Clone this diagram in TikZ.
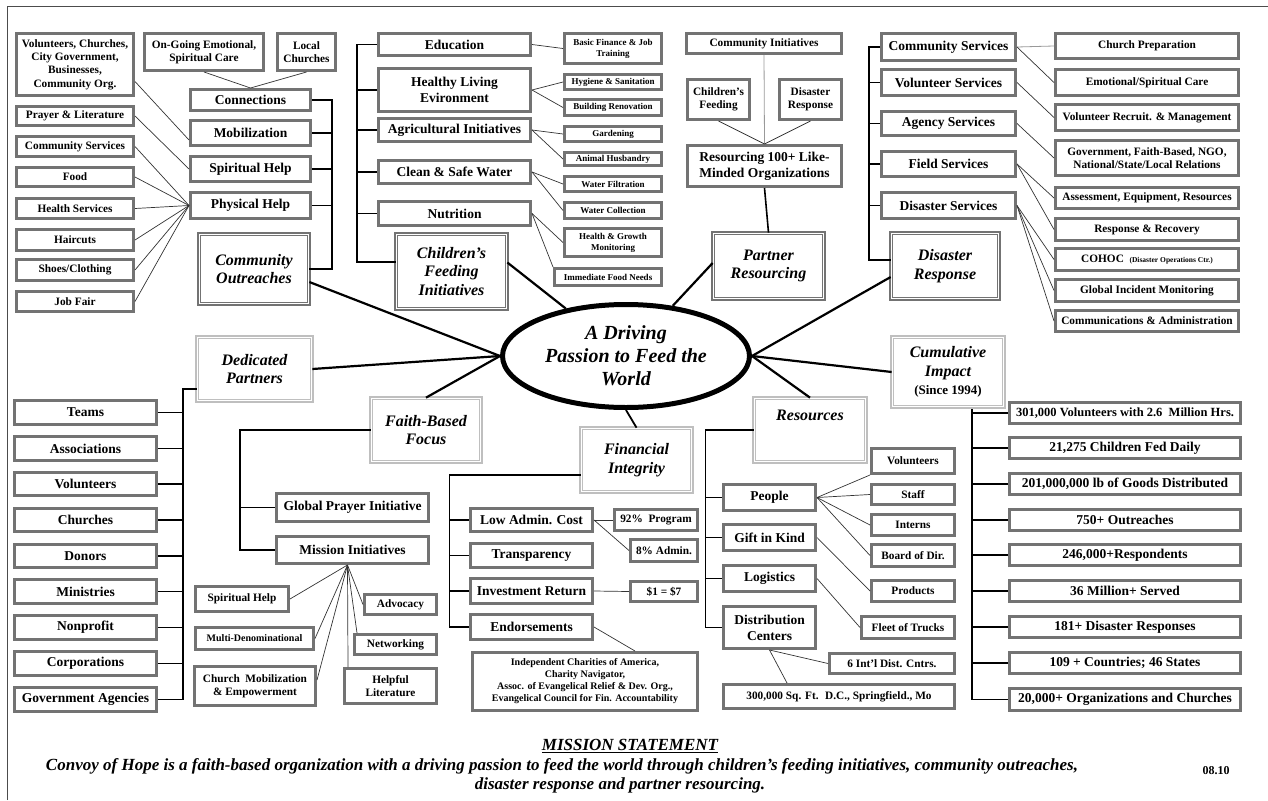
\documentclass[tikz,border=0pt]{standalone}
\usepackage{fontspec}
\setmainfont{Liberation Serif}
\usetikzlibrary{shapes.geometric,calc}
\newcommand\BoxAt[7]{%
 \pgfmathsetmacro\bxw{#4-#2-2.6}%
 \pgfmathsetmacro\bxh{#5-#3-2.6}%
 \pgfmathsetmacro\bxcx{(#2+#4)/2}%
 \pgfmathsetmacro\bxcy{(#3+#5)/2}%
 \node[#6,minimum width=\bxw pt,minimum height=\bxh pt] (#1) at (\bxcx,\bxcy) {#7};}
\tikzset{
 bxs/.style={draw=black!55, line width=2.6pt, fill=white, inner sep=1pt, align=center},
 catd/.style={draw=black!55, line width=1.3pt, double=white, double distance=1.5pt, fill=white, align=center, inner sep=1pt, font=\fontsize{16}{18.5}\selectfont\bfseries\itshape},
 catl/.style={catd, draw=black!25},
 fA/.style={font=\fontsize{13.5}{16}\selectfont\bfseries},
 fB/.style={font=\fontsize{11.3}{13.3}\selectfont\bfseries},
 fC/.style={font=\fontsize{9}{11}\selectfont\bfseries},
 fD/.style={font=\fontsize{10}{12}\selectfont\bfseries},
 fan/.style={draw=black!80, line width=0.7pt},
 fanl/.style={draw=black!40, line width=0.8pt},
 brk/.style={draw=black, line width=1.4pt},
 spk/.style={draw=black, line width=2.2pt},
 btxt/.style={font=\fontsize{17}{20}\selectfont\bfseries\itshape, inner sep=0pt},
}
\begin{document}
\begin{tikzpicture}[x=1pt,y=-1pt]
\useasboundingbox (0,0) rectangle (1268,800);
\draw[line width=1pt, black!70] (7,800) -- (7,7) -- (1268,7);

% central ellipse
\node[draw, ellipse, line width=5pt, minimum width=247pt, minimum height=103pt, inner sep=0pt, align=center,
  font=\fontsize{20}{23}\selectfont\bfseries\itshape, fill=white] (ell) at (626,356) {A Driving\\Passion to Feed the\\World};

% ---------- Community Outreaches
\BoxAt{volc}{15}{32}{135}{97}{bxs,fB}{Volunteers, Churches,\\City Government,\\Businesses,\\Community Org.}
\BoxAt{ongo}{143}{32}{265}{72}{bxs,fB}{On-Going Emotional,\\Spiritual Care}
\BoxAt{locc}{276}{32}{337}{72}{bxs,fB}{Local\\Churches}
\BoxAt{conn}{189}{88}{312}{112}{bxs,fA}{Connections}
\BoxAt{mobi}{189}{119}{312}{147}{bxs,fA}{Mobilization}
\BoxAt{spir}{189}{155}{312}{183}{bxs,fA}{Spiritual Help}
\BoxAt{phys}{189}{191}{312}{220}{bxs,fA}{Physical Help}
\BoxAt{comout}{198}{233}{310}{305}{catd}{Community\\Outreaches}
\BoxAt{prl}{15}{105}{135}{127}{bxs,fB}{Prayer \& Literature}
\BoxAt{cms}{15}{135}{135}{158}{bxs,fB}{Community Services}
\BoxAt{food}{15}{166}{135}{188}{bxs,fB}{Food}
\BoxAt{hlth}{15}{197}{135}{220}{bxs,fB}{Health Services}
\BoxAt{hair}{15}{228}{135}{252}{bxs,fB}{Haircuts}
\BoxAt{shoe}{15}{258}{135}{282}{bxs,fB}{Shoes/Clothing}
\BoxAt{jobf}{15}{290}{135}{313}{bxs,fB}{Job Fair}
\draw[fan] (ongo.south) -- (conn.north);
\draw[fan] (locc.south) -- (conn.north);
\draw[fan] ($(volc.east)+(0,17)$) -- ($(mobi.west)+(0,7)$);
\draw[fan] (prl.east) -- (spir.west);
\foreach \n in {cms,food,hlth,hair,shoe,jobf} \draw[fan] (\n.east) -- (phys.west);
\draw[brk] (conn.east) -- ++(20,0) coordinate (b1) -- (b1 |- comout.east) -- (comout.east);
\foreach \n in {mobi,spir,phys} \draw[brk] (\n.east) -- (\n.east -| b1);
\draw[spk] ($(comout.east)+(0,13)$) -- (ell.west);

% ---------- Children's Feeding
\BoxAt{educ}{377}{32}{532}{57}{bxs,fA}{Education}
\BoxAt{hlv}{377}{67}{532}{113}{bxs,fA}{Healthy Living\\Evironment}
\BoxAt{agri}{377}{117}{532}{143}{bxs,fA}{Agricultural Initiatives}
\BoxAt{csw}{377}{159}{532}{185}{bxs,fA}{Clean \& Safe Water}
\BoxAt{nutr}{377}{200}{532}{227}{bxs,fA}{Nutrition}
\BoxAt{cfi}{395}{233}{508}{310}{catd}{Children’s\\Feeding\\Initiatives}
\BoxAt{bfj}{563}{32}{663}{65}{bxs,fC}{Basic Finance \& Job\\Training}
\BoxAt{hyg}{563}{73}{663}{91}{bxs,fC}{Hygiene \& Sanitation}
\BoxAt{bren}{563}{98}{663}{117}{bxs,fC}{Building Renovation}
\BoxAt{gard}{563}{125}{663}{143}{bxs,fC}{Gardening}
\BoxAt{anim}{563}{151}{663}{167}{bxs,fC}{Animal Husbandry}
\BoxAt{wfil}{563}{175}{663}{193}{bxs,fC}{Water Filtration}
\BoxAt{wcol}{563}{201}{663}{220}{bxs,fC}{Water Collection}
\BoxAt{hgm}{563}{227}{663}{258}{bxs,fC}{Health \& Growth\\Monitoring}
\BoxAt{imm}{553}{267}{663}{287}{bxs,fC}{Immediate Food Needs}
\draw[fan] (educ.east) -- (bfj.west);
\draw[fan] (hlv.east) -- (hyg.west);
\draw[fan] (hlv.east) -- (bren.west);
\draw[fan] (agri.east) -- (gard.west);
\draw[fan] (agri.east) -- (anim.west);
\draw[fan] (csw.east) -- (wfil.west);
\draw[fan] (csw.east) -- (wcol.west);
\draw[fan] (nutr.east) -- (hgm.west);
\draw[fan] (nutr.east) -- (imm.north west);
\draw[brk] (educ.west) -- ++(-20,0) coordinate (b2) -- (b2 |- 0,262) -- (cfi.west |- 0,262);
\foreach \n in {hlv,agri,csw,nutr} \draw[brk] (\n.west) -- (\n.west -| b2);
\draw[spk] ($(cfi.east)+(0,-9)$) -- (ell);

% ---------- Partner Resourcing
\BoxAt{comi}{685}{32}{843}{55}{bxs,fB}{Community Initiatives}
\BoxAt{chf}{686}{78}{751}{121}{bxs,fB}{Children’s\\Feeding}
\BoxAt{drs}{778}{78}{843}{121}{bxs,fB}{Disaster\\Response}
\BoxAt{res100}{686}{144}{843}{188}{bxs,fA}{Resourcing 100+ Like-\\Minded Organizations}
\BoxAt{prs}{712}{232}{825}{300}{catd}{Partner\\Resourcing}
\draw[fanl] (comi.south) -- (res100.north);
\draw[fan] (chf.south) -- (res100.north);
\draw[fan] (drs.south) -- (res100.north);
\draw[line width=1.6pt] (res100.south) -- (prs.north);
\draw[spk] ($(prs.west)+(0,-3)$) -- (ell);

% ---------- Disaster Response
\BoxAt{csv}{880}{32}{1017}{62}{bxs,fA}{Community Services}
\BoxAt{vsv}{880}{68}{1017}{97}{bxs,fA}{Volunteer Services}
\BoxAt{asv}{880}{110}{1017}{137}{bxs,fA}{Agency Services}
\BoxAt{fsv}{880}{150}{1017}{178}{bxs,fA}{Field Services}
\BoxAt{dsv}{880}{191}{1017}{220}{bxs,fA}{Disaster Services}
\BoxAt{drm}{890}{232}{1000}{300}{catd}{Disaster\\Response}
\BoxAt{chp}{1054}{32}{1240}{60}{bxs,fB}{Church Preparation}
\BoxAt{esc}{1054}{68}{1240}{97}{bxs,fB}{Emotional/Spiritual Care}
\BoxAt{vrm}{1054}{103}{1240}{132}{bxs,fB}{Volunteer Recruit. \& Management}
\BoxAt{gov}{1054}{139}{1240}{177}{bxs,fB}{Government, Faith-Based, NGO,\\National/State/Local Relations}
\BoxAt{aer}{1054}{186}{1240}{210}{bxs,fB}{Assessment, Equipment, Resources}
\BoxAt{rr}{1054}{217}{1240}{242}{bxs,fB}{Response \& Recovery}
\BoxAt{coh}{1054}{247}{1240}{272}{bxs,fB}{COHOC\ \ {\fontsize{7.5}{9}\selectfont(Disaster Operations Ctr.)}}
\BoxAt{gim}{1054}{278}{1240}{303}{bxs,fB}{Global Incident Monitoring}
\BoxAt{caa}{1054}{309}{1240}{333}{bxs,fB}{Communications \& Administration}
\draw[fanl] (csv.east) -- (chp.west);
\draw[fan] (csv.east) -- (esc.west);
\draw[fan] (vsv.east) -- (vrm.west);
\draw[fan] (asv.east) -- (gov.west);
\draw[fan] (fsv.east) -- (aer.west);
\draw[fan] (fsv.east) -- (rr.west);
\draw[fan] (dsv.east) -- (coh.west);
\draw[fan] (dsv.east) -- (gim.west);
\draw[fan] (dsv.east) -- (caa.west);
\draw[brk] (csv.west) -- ++(-11,0) coordinate (b4) -- (b4 |- 0,260) -- (drm.west |- 0,260);
\foreach \n in {vsv,asv,fsv,dsv} \draw[brk] (\n.west) -- (\n.west -| b4);
\draw[spk] ($(drm.west)+(0,11)$) -- (ell.east);

% ---------- Dedicated Partners
\BoxAt{dpart}{196}{336}{313}{402}{catl}{Dedicated\\Partners}
\BoxAt{teams}{13}{399}{158}{426}{bxs,fA}{Teams}
\BoxAt{assoc}{13}{435}{158}{462}{bxs,fA}{Associations}
\BoxAt{volu}{13}{471}{158}{497}{bxs,fA}{Volunteers}
\BoxAt{chur}{13}{507}{158}{533}{bxs,fA}{Churches}
\BoxAt{donr}{13}{543}{158}{569}{bxs,fA}{Donors}
\BoxAt{mini}{13}{578}{158}{605}{bxs,fA}{Ministries}
\BoxAt{nonp}{13}{614}{158}{641}{bxs,fA}{Nonprofit}
\BoxAt{corp}{13}{650}{158}{677}{bxs,fA}{Corporations}
\BoxAt{gova}{13}{686}{158}{713}{bxs,fA}{Government Agencies}
\coordinate (b3) at (183,389);
\draw[brk] (dpart.west |- b3) -- (b3) -- (b3 |- gova.east) -- (gova.east);
\foreach \n in {teams,assoc,volu,chur,donr,mini,nonp,corp} \draw[brk] (\n.east) -- (\n.east -| b3);
\draw[spk] (dpart.east) -- (ell.west);

% ---------- Faith-Based Focus
\BoxAt{fbf}{370}{397}{482}{463}{catl}{Faith-Based\\Focus}
\BoxAt{gpi}{275}{492}{430}{523}{bxs,fA}{Global Prayer Initiative}
\BoxAt{misi}{275}{535}{430}{565}{bxs,fA}{Mission Initiatives}
\draw[brk] (fbf.west) -- (fbf.west -| 240,0) coordinate (b5) -- (b5 |- misi.west) -- (misi.west);
\draw[brk] (gpi.west) -- (gpi.west -| b5);
\draw[spk] (fbf.north) -- (ell.west);
\BoxAt{sph}{194}{585}{290}{613}{bxs,fB}{Spiritual Help}
\BoxAt{mden}{194}{626}{315}{651}{bxs,fD}{Multi-Denominational}
\BoxAt{cme}{193}{665}{317}{707}{bxs,fB}{Church~ Mobilization\\\& Empowerment}
\BoxAt{adv}{363}{593}{438}{616}{bxs,fB}{Advocacy}
\BoxAt{netw}{353}{633}{438}{656}{bxs,fB}{Networking}
\BoxAt{hlit}{343}{667}{438}{705}{bxs,fB}{Helpful\\Literature}
\coordinate (mhub) at ($(misi.south)+(-5,0)$);
\draw[fan] (sph.east) -- (mhub);
\draw[fan] (mden.east) -- (mhub);
\draw[fan] ($(cme.east)+(0,-6)$) -- (mhub);
\draw[fan] (adv.west) -- (mhub);
\draw[fan] ($(netw.north west)+(4,0)$) -- (mhub);
\draw[fan] ($(hlit.north west)+(5,0)$) -- (mhub);

% ---------- Financial Integrity
\BoxAt{fin}{580}{427}{693}{493}{catl}{Financial\\Integrity}
\draw[line width=1.8pt] (ell.south) -- (fin.north);
\BoxAt{lac}{469}{507}{594}{533}{bxs,fA}{Low Admin. Cost}
\BoxAt{trn}{469}{542}{594}{569}{bxs,fA}{Transparency}
\BoxAt{inv}{469}{577}{594}{605}{bxs,fA}{Investment Return}
\BoxAt{endo}{469}{613}{594}{641}{bxs,fA}{Endorsements}
\BoxAt{p92}{613}{508}{699}{532}{bxs,fB}{92\%~ Program}
\BoxAt{a8}{629}{538}{699}{563}{bxs,fB}{8\% Admin.}
\BoxAt{d17}{629}{580}{699}{603}{bxs,fB}{\$1 = \$7}
\BoxAt{endb}{471}{651}{699}{712}{bxs,fD}{Independent Charities of America,\\Charity Navigator,\\Assoc. of Evangelical Relief \& Dev. Org.,\\Evangelical Council for Fin. Accountability}
\draw[brk] ($(fin.west)+(0,15)$) -- ++(-131,0) coordinate (b7) -- (b7 |- endo.west) -- (endo.west);
\foreach \n in {lac,trn,inv} \draw[brk] (\n.west) -- (\n.west -| b7);
\draw[fan] (lac.east) -- (p92.west);
\draw[fan] (lac.east) -- (a8.west);
\draw[fan] (inv.east) -- (d17.west);
\draw[fan] (endo.east) -- ($(endb.north)+(50,0)$);

% ---------- Resources
\BoxAt{rsc}{753}{397}{867}{463}{catl}{Resources\\[10pt]\mbox{}}
\BoxAt{ppl}{722}{483}{817}{512}{bxs,fA}{People}
\BoxAt{gik}{722}{523}{817}{552}{bxs,fA}{Gift in Kind}
\BoxAt{logi}{722}{564}{817}{593}{bxs,fA}{Logistics}
\BoxAt{dcen}{722}{605}{817}{650}{bxs,fA}{Distribution\\Centers}
\BoxAt{rvol}{870}{447}{956}{475}{bxs,fB}{Volunteers}
\BoxAt{staff}{870}{483}{956}{506}{bxs,fB}{Staff}
\BoxAt{intr}{870}{513}{956}{537}{bxs,fB}{Interns}
\BoxAt{bod}{870}{543}{956}{568}{bxs,fB}{Board of Dir.}
\BoxAt{prod}{870}{579}{956}{603}{bxs,fB}{Products}
\BoxAt{fleet}{860}{615}{956}{640}{bxs,fB}{Fleet of Trucks}
\BoxAt{intl}{828}{652}{956}{675}{bxs,fB}{6 Int’l Dist. Cntrs.}
\BoxAt{sqft}{722}{683}{956}{710}{bxs,fB}{300,000 Sq. Ft.~ D.C., Springfield., Mo}
\draw[brk] (rsc.west) -- ++(-48,0) coordinate (b8) -- (b8 |- dcen.west) -- (dcen.west);
\foreach \n in {ppl,gik,logi} \draw[brk] (\n.west) -- (\n.west -| b8);
\draw[fan] (ppl.east) -- (rvol.south west);
\draw[fan] (ppl.east) -- (staff.west);
\draw[fan] (ppl.east) -- (intr.west);
\draw[fan] (ppl.east) -- (bod.west);
\draw[fan] (gik.east) -- (prod.west);
\draw[fan] (logi.east) -- (fleet.west);
\draw[fan] (dcen.south) -- (intl.west);
\draw[fan] (dcen.south) -- ($(sqft.north)+(-52,0)$);
\draw[spk] (rsc.north) -- (ell.east);

% ---------- Cumulative Impact
\BoxAt{cum}{891}{336}{1005}{408}{catl}{Cumulative\\Impact\\{\fontsize{13}{15}\selectfont\upshape (Since 1994)}}
\draw[spk] (ell.east) -- (cum.west);
\BoxAt{c1}{1008}{401}{1242}{425}{bxs,font=\fontsize{12.5}{15}\selectfont\bfseries}{301,000 Volunteers with 2.6~ Million Hrs.}
\BoxAt{c2}{1008}{436}{1242}{460}{bxs,fA}{21,275 Children Fed Daily}
\BoxAt{c3}{1008}{472}{1242}{496}{bxs,fA}{201,000,000 lb of Goods Distributed}
\BoxAt{c4}{1008}{508}{1242}{532}{bxs,fA}{750+ Outreaches}
\BoxAt{c5}{1008}{543}{1242}{567}{bxs,fA}{246,000+Respondents}
\BoxAt{c6}{1008}{579}{1242}{603}{bxs,fA}{36 Million+ Served}
\BoxAt{c7}{1008}{615}{1242}{639}{bxs,fA}{181+ Disaster Responses}
\BoxAt{c8}{1008}{651}{1242}{675}{bxs,fA}{109 + Countries; 46 States}
\BoxAt{c9}{1008}{687}{1242}{712}{bxs,fA}{20,000+ Organizations and Churches}
\coordinate (b6) at (972,409);
\draw[brk] (b6) -- (b6 |- c9.west) -- (c9.west);
\foreach \n in {c1,c2,c3,c4,c5,c6,c7,c8} \draw[brk] (\n.west) -- (\n.west -| b6);

% ---------- Mission statement
\node[btxt] (mst) at (630,746) {\underline{MISSION STATEMENT}};
\node[btxt] (ml1) at (562,766) {Convoy of Hope is a faith-based organization with a driving passion to feed the world through children’s feeding initiatives, community outreaches,};
\node[btxt] (ml2) at (620,785) {disaster response and partner resourcing.};
\node[font=\fontsize{12}{14}\selectfont\bfseries, inner sep=0pt] (ver) at (1216,771) {08.10};
\end{tikzpicture}
\end{document}
